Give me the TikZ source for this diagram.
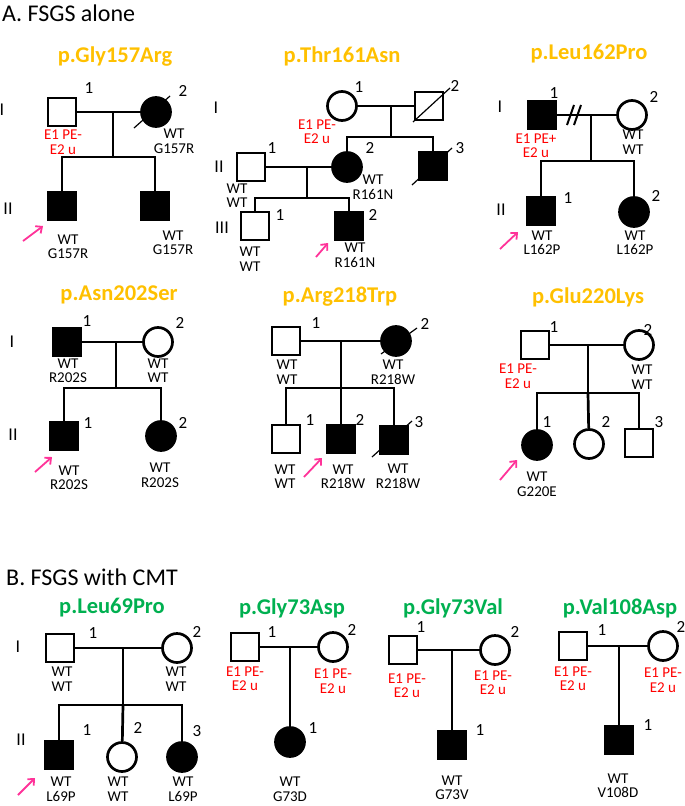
\documentclass[tikz,border=0pt]{standalone}
\usepackage{fontspec}
\setmainfont{Carlito}
\usetikzlibrary{arrows.meta}
\definecolor{titleyel}{HTML}{FFC000}
\definecolor{titlegrn}{HTML}{00B050}
\definecolor{pered}{HTML}{FF0000}
\definecolor{arrpink}{HTML}{FF3399}
\newcommand\genofont{\fontsize{15}{14.5}\selectfont}
\newcommand\numfont{\fontsize{17}{17}\selectfont}
\newcommand\genfont{\fontsize{18}{18}\selectfont}
\newcommand\titfont{\fontsize{22.5}{22.5}\selectfont\bfseries}
\newcommand\headfont{\fontsize{24}{24}\selectfont}

\begin{document}
\begin{tikzpicture}[x=1pt,y=-1pt,
  male/.style={draw,rectangle,line width=2.7pt,minimum size=28pt,inner sep=0pt,fill=white},
  female/.style={draw,circle,line width=2.7pt,minimum size=29pt,inner sep=0pt,fill=white},
  aff/.style={fill=black},
  ln/.style={line width=2.7pt},
  slash/.style={line width=1.2pt},
  geno/.style={font=\genofont,align=center,inner sep=0pt},
  pe/.style={geno,text=pered},
  num/.style={font=\numfont,inner sep=0pt},
  gen/.style={font=\genfont,inner sep=0pt},
  ytitle/.style={font=\titfont,text=titleyel,inner sep=0pt},
  gtitle/.style={font=\titfont,text=titlegrn,inner sep=0pt},
  head/.style={font=\headfont,anchor=west,inner sep=0pt},
  proband/.style={draw=arrpink,line width=1.8pt,-{Straight Barb[length=5pt,width=9pt]}}]
  \useasboundingbox (0,0) rectangle (685,806);

  \node[head] (ha) at (2,13) {A. FSGS alone};
  \node[head] (hb) at (6,577) {B. FSGS with CMT};

  % p.Gly157Arg
  \node[ytitle] (t1) at (115,57) {p.Gly157Arg};
  \path (62,112) node[male] (p1i1) {} (156,112) node[female,aff] (p1i2) {}
  (62,206) node[male,aff] (p1ii1) {} (155,206) node[male,aff] (p1ii2) {};
  \coordinate (p1m) at (113,112); \coordinate (p1s) at (113,157);
  \draw[ln] (p1i1) -- (p1i2); \draw[ln] (p1m) -- (p1s);
  \draw[ln] (p1ii1) |- (p1s) -| (p1ii2);
  \draw[slash] (134,128) -- (170,96);
  \path (89,88) node[num] (p1n1) {1} (183,91) node[num] (p1n2) {2};
  \path (2,110) node[gen] (p1g1) {I} (8,209) node[gen] (p1g2) {II};
  \node[pe] (p1e1) at (63,142) {E1 PE-\\E2 u};
  \node[geno] (p1w2) at (174,141) {WT\\G157R};
  \node[geno] (p1w3) at (68,246.5) {WT\\G157R};
  \node[geno] (p1w4) at (173,242.5) {WT\\G157R};
  \coordinate (p1a) at (23,241);
  \draw[proband] (p1a) -- (43,226);

  % p.Thr161Asn
  \node[ytitle] (t2) at (342,56) {p.Thr161Asn};
  \path (342,106) node[female] (p2i1) {} (429,106) node[male] (p2i2) {}
  (251,167) node[male] (p2ii1) {} (347,167) node[female,aff] (p2ii2) {}
  (433,166) node[male,aff] (p2ii3) {}
  (255,226) node[male] (p2iii1) {} (349,226) node[male,aff] (p2iii2) {};
  \coordinate (p2m) at (391,106); \coordinate (p2s) at (391,137);
  \coordinate (p2m2) at (307,167); \coordinate (p2s2) at (307,198);
  \draw[ln] (p2i1) -- (p2i2); \draw[ln] (p2m) -- (p2s);
  \draw[ln] (p2ii2) |- (p2s) -| (p2ii3);
  \draw[ln] (p2ii1) -- (p2ii2); \draw[ln] (p2m2) -- (p2s2);
  \draw[ln] (p2iii1) |- (p2s2) -| (p2iii2);
  \draw[slash] (413,122) -- (450,88);
  \draw[slash] (412,185) -- (452,148);
  \path (359,87) node[num] (p2n1) {1} (455,86) node[num] (p2n2) {2}
  (272,148) node[num] (p2n3) {1} (370,148) node[num] (p2n4) {2}
  (460,148) node[num] (p2n5) {3} (280,215) node[num] (p2n6) {1}
  (373,215) node[num] (p2n7) {2};
  \path (216,108) node[gen] (p2g1) {I} (219,167) node[gen] (p2g2) {II}
  (222,228) node[gen] (p2g3) {III};
  \node[pe] (p2e1) at (317,131.5) {E1 PE-\\E2 u};
  \node[geno] (p2w1) at (237,195.5) {WT\\WT};
  \node[geno] (p2w2) at (373,187) {WT\\R161N};
  \node[geno] (p2w3) at (250,259) {WT\\WT};
  \node[geno] (p2w4) at (355,255) {WT\\R161N};
  \coordinate (p2a) at (316,257);
  \draw[proband] (p2a) -- (328,243);

  % p.Leu162Pro
  \node[ytitle] (t3) at (589,54) {p.Leu162Pro};
  \path (542,115) node[male,aff] (p3i1) {} (632,115) node[female] (p3i2) {}
  (541,211) node[male,aff] (p3ii1) {} (634,212) node[female,aff] (p3ii2) {};
  \coordinate (p3m) at (591,115); \coordinate (p3s) at (591,161);
  \draw[ln] (p3i1) -- (p3i2); \draw[ln] (p3m) -- (p3s);
  \draw[ln] (p3ii1) |- (p3s) -| (p3ii2);
  \draw[ln,line width=2pt] (567,125) -- (574,105) (574,125) -- (581,105);
  \path (554,93) node[num] (p3n1) {1} (654,97) node[num] (p3n2) {2}
  (568,198) node[num] (p3n3) {1} (656,196) node[num] (p3n4) {2};
  \path (500,107) node[gen] (p3g1) {I} (501,210) node[gen] (p3g2) {II};
  \node[pe] (p3e1) at (536,145.5) {E1 PE+\\E2 u};
  \node[geno] (p3w1) at (633,142) {WT\\WT};
  \node[geno] (p3w2) at (542,242.5) {WT\\L162P};
  \node[geno] (p3w3) at (635,242.5) {WT\\L162P};
  \coordinate (p3a) at (500,249);
  \draw[proband] (p3a) -- (518,232);

  % p.Asn202Ser
  \node[ytitle] (t4) at (119,295) {p.Asn202Ser};
  \path (67,342) node[male,aff] (p4i1) {} (158,342) node[female] (p4i2) {}
  (64,436) node[male,aff] (p4ii1) {} (161,436) node[female,aff] (p4ii2) {};
  \coordinate (p4m) at (116,342); \coordinate (p4s) at (116,388);
  \draw[ln] (p4i1) -- (p4i2); \draw[ln] (p4m) -- (p4s);
  \draw[ln] (p4ii1) |- (p4s) -| (p4ii2);
  \path (87,321) node[num] (p4n1) {1} (180,323) node[num] (p4n2) {2}
  (88,423) node[num] (p4n3) {1} (183,423) node[num] (p4n4) {2};
  \path (12,342) node[gen] (p4g1) {I} (13,435) node[gen] (p4g2) {II};
  \node[geno] (p4w1) at (68,370.5) {WT\\R202S};
  \node[geno] (p4w2) at (158,370.5) {WT\\WT};
  \node[geno] (p4w3) at (69,477.5) {WT\\R202S};
  \node[geno] (p4w4) at (160,475) {WT\\R202S};
  \coordinate (p4a) at (35,472);
  \draw[proband] (p4a) -- (52,457);

  % p.Arg218Trp
  \node[ytitle] (t5) at (340,297) {p.Arg218Trp};
  \path (286,341) node[male] (p5i1) {} (396,341) node[female,aff] (p5i2) {}
  (286,439) node[male] (p5ii1) {} (341,439) node[male,aff] (p5ii2) {}
  (394,440) node[male,aff] (p5ii3) {};
  \coordinate (p5m) at (341,341); \coordinate (p5s) at (341,388);
  \draw[ln] (p5i1) -- (p5i2); \draw[ln] (p5m) -- (p5ii2);
  \draw[ln] (p5ii1) |- (p5s) -| (p5ii3);
  \draw[slash] (381,354) -- (417,328);
  \draw[slash] (372,457) -- (412,421);
  \path (316,323) node[num] (p5n1) {1} (425,324) node[num] (p5n2) {2}
  (310,420) node[num] (p5n3) {1} (360,420) node[num] (p5n4) {2}
  (419,422) node[num] (p5n5) {3};
  \node[geno] (p5w1) at (287,372) {WT\\WT};
  \node[geno] (p5w2) at (393,372) {WT\\R218W};
  \node[geno] (p5w3) at (285,476.5) {WT\\WT};
  \node[geno] (p5w4) at (343,476.5) {WT\\R218W};
  \node[geno] (p5w5) at (398,476) {WT\\R218W};
  \coordinate (p5a) at (304,477);
  \draw[proband] (p5a) -- (322,458);

  % p.Glu220Lys
  \node[ytitle] (t6) at (588,297) {p.Glu220Lys};
  \path (535,345) node[male] (p6i1) {} (639,345) node[female] (p6i2) {}
  (537,445) node[female,aff] (p6ii1) {} (589,444) node[female] (p6ii2) {}
  (639,443) node[male] (p6ii3) {};
  \coordinate (p6m) at (588,345); \coordinate (p6s) at (588,393);
  \draw[ln] (p6i1) -- (p6i2); \draw[ln] (p6m) -- (p6s);
  \draw[ln] (p6ii1) |- (p6s) -| (p6ii3);
  \draw[ln] (p6s) -- (p6ii2);
  \path (554,327) node[num] (p6n1) {1} (648,330) node[num] (p6n2) {2}
  (547,422) node[num] (p6n3) {1} (606,422) node[num] (p6n4) {2}
  (659,422) node[num] (p6n5) {3};
  \node[pe] (p6e1) at (518,376) {E1 PE-\\E2 u};
  \node[geno] (p6w1) at (642,377) {WT\\WT};
  \node[geno] (p6w2) at (537,484) {WT\\G220E};
  \coordinate (p6a) at (500,480);
  \draw[proband] (p6a) -- (517,460);

  % p.Leu69Pro
  \node[gtitle] (t7) at (112,608) {p.Leu69Pro};
  \path (60,648) node[male] (p7i1) {} (177,648) node[female] (p7i2) {}
  (59,755) node[male,aff] (p7ii1) {} (122,757) node[female] (p7ii2) {}
  (182,757) node[female,aff] (p7ii3) {};
  \coordinate (p7m) at (123,648); \coordinate (p7s) at (123,705);
  \draw[ln] (p7i1) -- (p7i2); \draw[ln] (p7m) -- (p7s);
  \draw[ln] (p7ii1) |- (p7s) -| (p7ii3);
  \draw[ln] (p7s) -- (p7ii2);
  \path (93,633) node[num] (p7n1) {1} (197,632) node[num] (p7n2) {2}
  (87,730) node[num] (p7n3) {1} (138,728) node[num] (p7n4) {2}
  (197,731) node[num] (p7n5) {3};
  \path (18,647) node[gen] (p7g1) {I} (21,740) node[gen] (p7g2) {II};
  \node[geno] (p7w1) at (62,679) {WT\\WT};
  \node[geno] (p7w2) at (176,679) {WT\\WT};
  \node[geno] (p7w3) at (61,789) {WT\\L69P};
  \node[geno] (p7w4) at (118,789) {WT\\WT};
  \node[geno] (p7w5) at (183,789) {WT\\L69P};
  \coordinate (p7a) at (18,795);
  \draw[proband] (p7a) -- (35,778);

  % p.Gly73Asp
  \node[gtitle] (t8) at (292,608) {p.Gly73Asp};
  \path (245,647) node[male] (p8i1) {} (333,647) node[female] (p8i2) {}
  (290,742) node[female,aff] (p8ii1) {};
  \coordinate (p8m) at (290,647);
  \draw[ln] (p8i1) -- (p8i2); \draw[ln] (p8m) -- (p8ii1);
  \path (272,632) node[num] (p8n1) {1} (352,630) node[num] (p8n2) {2}
  (313,728) node[num] (p8n3) {1};
  \node[pe] (p8e1) at (245,678.5) {E1 PE-\\E2 u};
  \node[pe] (p8e2) at (333,681) {E1 PE-\\E2 u};
  \node[geno] (p8w1) at (290,789) {WT\\G73D};

  % p.Gly73Val
  \node[gtitle] (t9) at (453,608) {p.Gly73Val};
  \path (403,650) node[male] (p9i1) {} (495,650) node[female] (p9i2) {}
  (452,745) node[male,aff] (p9ii1) {};
  \coordinate (p9m) at (452,650);
  \draw[ln] (p9i1) -- (p9i2); \draw[ln] (p9m) -- (p9ii1);
  \path (421,627) node[num] (p9n1) {1} (515,632) node[num] (p9n2) {2}
  (480,730) node[num] (p9n3) {1};
  \node[pe] (p9e1) at (407,685.5) {E1 PE-\\E2 u};
  \node[pe] (p9e2) at (493,682.5) {E1 PE-\\E2 u};
  \node[geno] (p9w1) at (452,787.5) {WT\\G73V};

  % p.Val108Asp
  \node[gtitle] (t10) at (620,608) {p.Val108Asp};
  \path (573,646) node[male] (p10i1) {} (663,646) node[female] (p10i2) {}
  (619,740) node[male,aff] (p10ii1) {};
  \coordinate (p10m) at (619,646);
  \draw[ln] (p10i1) -- (p10i2); \draw[ln] (p10m) -- (p10ii1);
  \path (602,630) node[num] (p10n1) {1} (681,627) node[num] (p10n2) {2}
  (648,725) node[num] (p10n3) {1};
  \node[pe] (p10e1) at (573,678.5) {E1 PE-\\E2 u};
  \node[pe] (p10e2) at (663,680) {E1 PE-\\E2 u};
  \node[geno] (p10w1) at (618,785.5) {WT\\V108D};
\end{tikzpicture}
\end{document}
